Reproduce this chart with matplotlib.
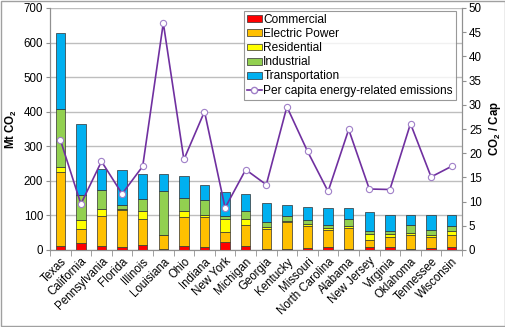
import matplotlib
matplotlib.use('Agg')
import matplotlib.pyplot as plt
import numpy as np
from matplotlib.lines import Line2D
from matplotlib.patches import Patch, Rectangle

plt.rcParams['font.family'] = ['Liberation Sans', 'DejaVu Sans']
plt.rcParams['mathtext.default'] = 'regular'

# ----- data -----
states = ['Texas', 'California', 'Pennsylvania', 'Florida', 'Illinois', 'Louisiana',
          'Ohio', 'Indiana', 'New York', 'Michigan', 'Georgia', 'Kentucky', 'Missouri',
          'North Carolina', 'Alabama', 'New Jersey', 'Virginia', 'Oklahoma',
          'Tennessee', 'Wisconsin']
commercial = [13, 19, 12, 8, 14, 3, 13, 8, 23, 12, 4, 4, 6, 8, 4, 10, 8, 4, 6, 8]
electric = [214, 42, 87, 107, 76, 39, 82, 87, 29, 61, 58, 76, 62, 51, 60, 18, 30, 40, 32, 36]
residential = [12, 25, 21, 5, 24, 2, 17, 7, 38, 18, 4, 4, 7, 5, 4, 18, 8, 4, 4, 10]
industrial = [170, 72, 55, 9, 34, 128, 38, 42, 7, 21, 15, 13, 11, 9, 22, 8, 8, 25, 15, 16]
transport = [219, 207, 59, 101, 72, 48, 65, 44, 72, 51, 56, 34, 38, 48, 31, 56, 48, 28, 43, 30]
per_capita = [22.8, 9.5, 18.3, 11.6, 17.3, 46.9, 18.7, 28.6, 8.7, 16.6,
              13.5, 29.6, 20.4, 12.1, 24.9, 12.6, 12.5, 26.1, 15.1, 17.3]

series = [('Commercial', commercial, '#FF0000'),
          ('Electric Power', electric, '#FFC000'),
          ('Residential', residential, '#FFFF00'),
          ('Industrial', industrial, '#92D050'),
          ('Transportation', transport, '#00B0F0')]

FS = 8.3

fig = plt.figure(figsize=(5.06, 3.27), dpi=100)
ax = fig.add_axes([50 / 506, 77 / 327, 412 / 506, 242 / 327])

x = np.arange(len(states))
bottom = np.zeros(len(states))
for name, vals, col in series:
    ax.bar(x, vals, 0.45, bottom=bottom, color=col, edgecolor='#303030', linewidth=0.5, zorder=3)
    bottom += np.array(vals)

ax.set_xlim(-0.5, len(states) - 0.5)
ax.set_ylim(0, 700)
ax.set_yticks(range(0, 701, 100))
ax.yaxis.grid(True, color='#BEBEBE', linewidth=1.0, zorder=0)
ax.set_axisbelow(True)
ax.set_xticks(x)
ax.set_xticklabels(states, rotation=45, ha='right', rotation_mode='anchor', fontsize=FS)
ax.set_xticks(np.arange(-0.5, len(states), 1), minor=True)
ax.tick_params(axis='x', which='major', length=0, pad=4)
ax.tick_params(axis='x', which='minor', length=4, color='#909090')
ax.tick_params(axis='y', labelsize=FS, length=3, color='#909090', pad=2)
ax.spines['top'].set_visible(False)
for s in ['left', 'bottom', 'right']:
    ax.spines[s].set_color('#909090')
ax.set_ylabel('Mt CO$_2$', fontsize=FS, fontweight='bold', labelpad=3)

ax2 = ax.twinx()
ax2.plot(x, per_capita, color='#7030A0', linewidth=1.2, marker='o', markersize=4.5,
         markerfacecolor='white', markeredgecolor='#A080C8', markeredgewidth=0.8, zorder=5)
ax2.set_ylim(0, 50)
ax2.set_yticks(range(0, 51, 5))
ax2.tick_params(axis='y', labelsize=FS, length=3, color='#909090', pad=2)
ax2.spines['top'].set_visible(False)
for s in ['left', 'bottom', 'right']:
    ax2.spines[s].set_color('#909090')
ax2.set_ylabel('CO$_2$ / Cap', fontsize=FS, fontweight='bold', labelpad=4)

handles = [Patch(facecolor=c, edgecolor='#303030', linewidth=0.5, label=n) for n, _, c in series]
handles.append(Line2D([], [], color='#7030A0', linewidth=1.2, marker='o', markersize=4.5,
                      markerfacecolor='white', markeredgecolor='#A080C8',
                      label='Per capita energy-related emissions'))
leg = ax2.legend(handles=handles, loc='upper right', bbox_to_anchor=(0.985, 0.988),
                 fontsize=8.6, frameon=True, fancybox=False, borderpad=0.25,
                 labelspacing=0.18, handlelength=1.2, handleheight=0.5, handletextpad=0.15,
                 borderaxespad=0)
leg.get_frame().set_edgecolor('#808080')
leg.get_frame().set_linewidth(0.8)

fig.patches.append(Rectangle((0.001, 0.002), 0.997, 0.996, transform=fig.transFigure,
                             fill=False, edgecolor='#A0A0A0', linewidth=1.0))

fig.savefig('out.png', dpi=100)
